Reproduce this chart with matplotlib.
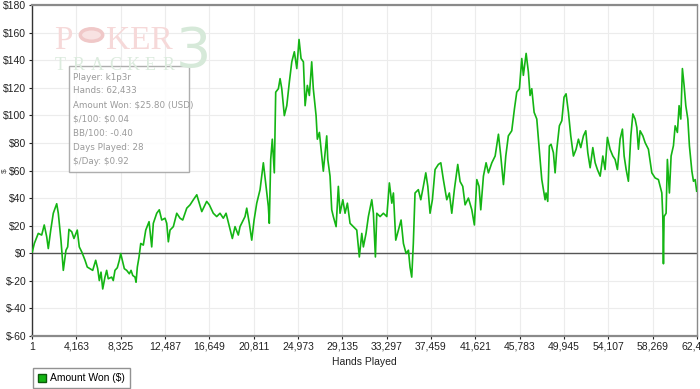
import matplotlib
matplotlib.use("Agg")
import matplotlib.pyplot as plt
from matplotlib.patches import Rectangle, Circle
from matplotlib.lines import Line2D

# cumulative winnings (hands played, dollars)
hands = [30, 220, 590, 910, 1150, 1380, 1530, 1760, 2000, 2320, 2470, 2720, 2940, 3190, 3350,
         3470, 3730, 3940, 4250, 4440, 4670, 4980, 5190, 5450, 5700, 5980, 6170, 6320, 6480, 6640,
         6850, 7010, 7160, 7480, 7630, 7790, 8010, 8200, 8330, 8480, 8670, 8890, 9140, 9300, 9460,
         9670, 9770, 9890, 10050, 10210, 10450, 10680, 10990, 11240, 11390, 11710, 11950, 12180,
         12490, 12650, 12800, 12960, 13270, 13590, 13900, 14150, 14530, 14840, 15150, 15470, 15940,
         16400, 16650, 17020, 17340, 17650, 17960, 18220, 18810, 19060, 19370,
         19530, 20000, 20160, 20400, 20630, 20850, 21100, 21410, 21720, 21970, 22190, 22280, 22410,
         22560, 22750, 22880, 23130, 23290, 23450, 23690, 23920, 24160, 24390, 24630, 24860, 25070,
         25260, 25480, 25640, 25850, 26040, 26260, 26410, 26670, 26790, 26980, 27140, 27350, 27670,
         27770, 27980, 28140, 28290, 28550, 28760, 28920, 29180, 29390, 29610, 29860, 30170, 30490,
         30730, 30960, 31110, 31360, 31580, 31900, 32050, 32240, 32370, 32680, 32990, 33310, 33550,
         33780, 33930, 34150, 34400, 34650, 34870, 35120, 35340, 35490, 35650, 35800, 35960, 36270,
         36500, 36740, 36970, 37160, 37370, 37590, 37840, 38150, 38380, 38620, 38940, 39180, 39410,
         39650, 39970,
         40190, 40440, 40660, 40970, 41290, 41530, 41760, 41970, 42130, 42380, 42630, 42850, 43170,
         43480, 43790, 44010, 44260, 44480, 44720, 45040, 45290, 45510, 45760, 45980, 46130, 46390,
         46600, 46760, 46920, 47140, 47390, 47540, 47700, 47860, 48010, 48170, 48260, 48420, 48570,
         48730, 48950, 49110, 49270, 49510, 49740, 49950, 50140, 50360, 50580, 50830, 51080, 51300,
         51520, 51770, 51990, 52180, 52400, 52650, 52870, 53080, 53340, 53590, 53800, 54020, 54270,
         54530, 54740, 54960, 55210, 55430, 55590, 55780, 55990, 56220, 56410, 56620, 56780, 56930,
         57090, 57350, 57560, 57870, 58190, 58500, 58810, 58970, 59130, 59220, 59280, 59340, 59530,
         59650, 59840, 60000, 60220, 60380, 60590, 60750, 60910, 61060, 61220, 61380, 61570, 61720,
         61950, 62100, 62260, 62400]

won = [1.0, 7.1, 14.4, 13.2, 20.5, 12.0, 3.4, 16.8, 29.0, 35.9, 29.0, 9.5, -12.4, 2.2, 4.6,
       17.3, 15.6, 10.7, 16.8, 4.6, 1.0, -5.1, -10.0, -11.2, -12.4, -5.1, -11.2, -19.8, -13.7, -25.9,
       -17.3, -12.4, -18.5, -17.3, -19.8, -12.4, -10.5, -5.1, -0.2, -5.1, -11.2, -12.4, -14.9, -12.4,
       -16.1, -17.3, -21.0, -10.0, -2.7, 7.1, 5.9, 16.8, 22.9, 4.6, 21.7, 29.0, 31.5, 24.1, 25.4,
       21.7, 8.3, 16.8, 19.3, 29.0, 25.4, 24.1, 32.7, 35.1, 38.8, 42.4, 30.2, 37.6, 35.1, 29.0,
       26.6, 29.0, 25.4, 29.0, 10.7, 19.3, 13.2,
       19.3, 26.6, 32.7, 21.7, 9.5, 24.1, 36.3, 46.1, 65.6, 48.5, 33.9, 21.7, 68.0, 82.7, 58.3,
       116.8, 119.3, 126.6, 119.3, 99.8, 107.0, 124.1, 138.8, 146.1, 133.9, 155.0, 141.2, 138.8,
       107.0, 121.7, 114.4, 138.8, 119.3, 99.8, 82.7, 87.6, 75.4, 59.5, 85.1, 68.0, 55.9, 31.5,
       26.6, 19.3, 48.5, 29.0, 38.8, 29.0, 36.3, 21.7, 19.3, 16.8, -2.7, 14.4, 4.6, 14.4, 26.6,
       38.8, 29.0, -2.7, 29.0, 26.6, 29.0, 26.6, 51.0, 36.3, 43.7, 9.5, 16.8, 24.1, 7.1, -0.2,
       2.2, -10.0, -17.3, 7.1, 43.7, 46.1, 38.8, 48.5, 58.3, 48.5, 29.0, 38.8, 60.7, 64.4, 65.6,
       53.4, 38.8, 43.7, 29.0, 46.1, 64.4,
       52.0, 48.5, 35.1, 40.0, 31.5, 20.5, 53.4, 48.5, 31.5, 55.9, 65.6, 58.3, 65.6, 70.5, 86.3,
       70.5, 49.8, 70.5, 85.1, 88.8, 104.6, 116.8, 119.3, 141.2, 129.0, 144.9, 131.5, 114.4, 119.3,
       102.2, 97.3, 82.7, 68.0, 53.4, 46.1, 38.8, 43.7, 37.6, 77.8, 79.0, 72.9, 58.3, 75.4, 92.4,
       96.1, 113.2, 115.6, 102.2, 85.1, 70.5, 75.4, 82.7, 76.6, 85.1, 88.8, 72.9, 62.0, 76.6, 65.6,
       60.7, 55.9, 70.5, 60.7, 84.0, 75.4, 70.5, 68.0, 60.7, 82.7, 90.0, 70.5, 60.7, 52.2, 85.1,
       101.0, 97.3, 91.2, 75.4, 88.8, 85.1, 80.2, 75.4, 58.3, 54.6, 53.4, 48.5, 43.7, 26.6, -7.6,
       26.6, 29.0, 68.0, 43.7, 70.5, 78.0, 92.4, 87.6, 107.0, 97.3, 133.9, 121.7, 107.0, 97.3,
       77.8, 59.5, 52.2, 53.4, 45.0]

x_ticks = [1 + 4162 * i for i in range(16)]
y_ticks = list(range(-60, 181, 20))

info_lines = ["Player: k1p3r", "Hands: 62,433", "Amount Won: $25.80 (USD)", "$/100: $0.04",
              "BB/100: -0.40", "Days Played: 28", "$/Day: $0.92"]

W, H = 700, 389
GREEN = '#14b514'


def fx(x):
    return x / W


def fy(y):
    return 1 - y / H


plt.rcParams['font.family'] = ['Liberation Sans', 'DejaVu Sans']
plt.rcParams['text.parse_math'] = False

fig = plt.figure(figsize=(7, 3.89), dpi=100)
fig.patch.set_facecolor('white')
ax = fig.add_axes([fx(32), fy(336), fx(697 - 32), (336 - 5) / H])

ax.set_xlim(1, x_ticks[-1])
ax.set_ylim(-60, 180)
ax.set_xticks(x_ticks)
ax.set_xticklabels([f"{v:,}" for v in x_ticks])
ax.set_yticks(y_ticks)
ax.set_yticklabels([f"${v}" for v in y_ticks])
ax.tick_params(labelsize=7.5, colors='#222222', length=2, width=0.8, pad=2)
ax.grid(True, color='#ececec', linewidth=0.8)
ax.set_axisbelow(True)

for side in ['top', 'bottom', 'right']:
    ax.spines[side].set_color('#8a8a8a')
ax.spines['top'].set_linewidth(1.6)
ax.spines['bottom'].set_linewidth(1.6)
ax.spines['right'].set_linewidth(1.0)
ax.spines['left'].set_color('#333333')
ax.spines['left'].set_linewidth(1.0)

ax.axhline(0, color='#555555', linewidth=1.0, zorder=2)
ax.plot(hands, won, color=GREEN, linewidth=1.2, zorder=3)

ax.set_xlabel('Hands Played', fontsize=7.5, color='#222222', labelpad=4)
ax.set_ylabel('$', fontsize=6, color='#444444')
ax.yaxis.set_label_coords(-0.036, 0.5)

# faded Poker Tracker 3 watermark
serif = ['Liberation Serif', 'DejaVu Serif']
fig.text(fx(54), fy(49), 'P', fontsize=24, family=serif, color='#f6d9d9', va='baseline')
fig.patches.append(Circle((fx(91.5), fy(35)), 0.016, transform=fig.transFigure,
                          facecolor='#f8e2e2', edgecolor='#f0c8c8', linewidth=2.5))
fig.text(fx(106), fy(49), 'KER', fontsize=24, family=serif, color='#f6d9d9', va='baseline')
for i, ch in enumerate('TRACKER'):
    fig.text(fx(55 + i * 18), fy(70), ch, fontsize=13, family=serif, color='#dcebde', va='baseline')
fig.text(fx(176), fy(67), '3', fontsize=40, family=['DejaVu Sans'], color='#d6e9d9', va='baseline')

# player stats box
fig.patches.append(Rectangle((fx(69), fy(172)), fx(120), 106 / H, transform=fig.transFigure,
                             facecolor='white', edgecolor='#a0a0a0', linewidth=1.0, alpha=0.85))
for i, line in enumerate(info_lines):
    fig.text(fx(73), fy(77 + i * 14), line, fontsize=6.3, family=['DejaVu Sans'],
             color='#9a9a9a', va='center')

handle = Line2D([], [], linestyle='none', marker='s', markersize=6,
                markerfacecolor=GREEN, markeredgecolor='#0a5a0a')
fig.legend([handle], ['Amount Won ($)'], loc='upper left', bbox_to_anchor=(fx(33), fy(368)),
           bbox_transform=fig.transFigure, fontsize=7.5, frameon=True, fancybox=False,
           edgecolor='#777777', handlelength=0.8, handletextpad=0.3, borderpad=0.5,
           borderaxespad=0)

fig.savefig('out.png', dpi=100)
